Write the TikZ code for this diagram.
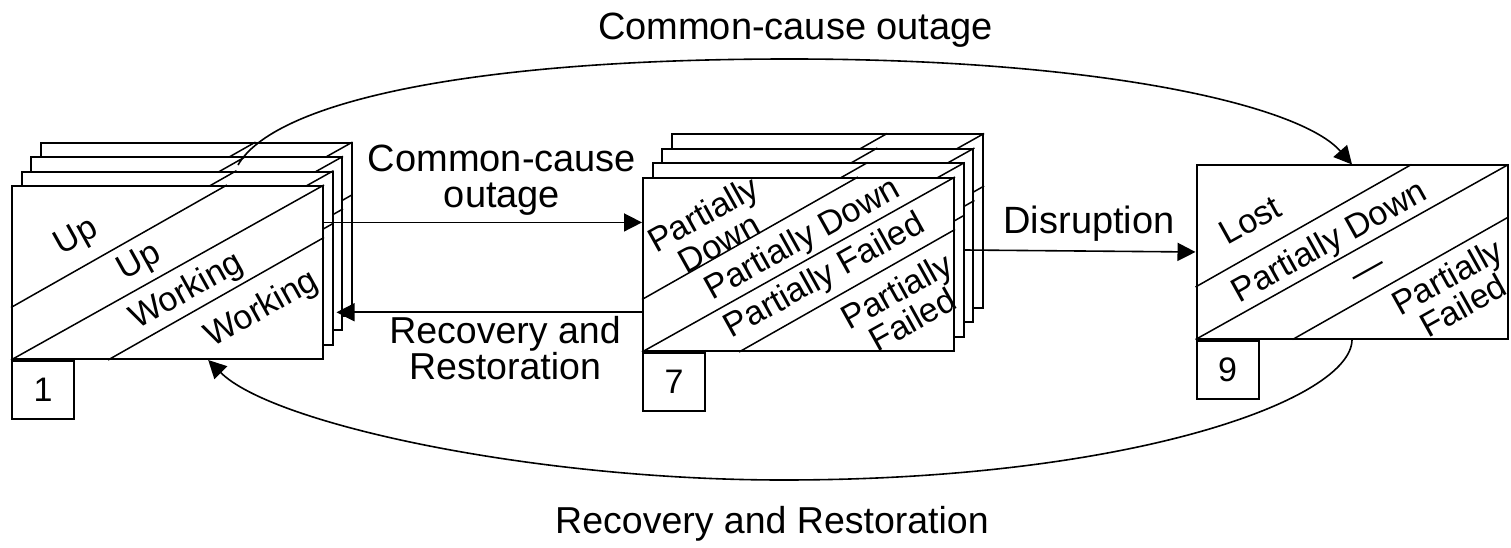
\documentclass[tikz,border=0pt]{standalone}
\usepackage{fontspec}
\setmainfont{Liberation Sans}
\usetikzlibrary{arrows.meta,calc}
\newcommand\fbig{\fontsize{38}{36.5}\selectfont}
\newcommand\frec{\fontsize{37.5}{33}\selectfont}
\newcommand\fmid{\fontsize{34}{33}\selectfont}
\newcommand\fnum{\fontsize{34}{34}\selectfont}
\newcommand\drawcard[2]{%
  \node[card] (#1) at (#2) {};
  \draw[diag] ($(#1.south west)!0.3!(#1.north west)$) -- ($(#1.north west)!0.69!(#1.north east)$);
  \draw[diag] (#1.south west) -- (#1.north east);
  \draw[diag] ($(#1.south west)!0.31!(#1.south east)$) -- ($(#1.south east)!0.7!(#1.north east)$);
}
\begin{document}
\begin{tikzpicture}[x=1pt,y=-1pt,
  card/.style={draw,fill=white,line width=2pt,minimum width=311pt,minimum height=173pt,inner sep=0pt},
  diag/.style={line width=1.5pt},
  numbox/.style={draw,line width=2pt,minimum width=62pt,minimum height=58pt,inner sep=0pt,font=\fnum,anchor=north west},
  conn/.style={line width=1.6pt,-{Triangle[length=18pt,width=18pt]}},
  lbl/.style={font=\fbig,inner sep=0pt},
  intext/.style={font=\fmid,rotate=29.1,align=center,inner sep=0pt}]
\useasboundingbox (0,0) rectangle (1511,548);
% card stack 1
\drawcard{c1d}{196,229.6}
\drawcard{c1c}{186.5,243.9}
\drawcard{c1b}{177,258.2}
\drawcard{c1a}{167.5,272.5}
\node[intext] (u1) at (77,238) {Up};
\node[intext] (u2) at (140,263) {Up};
\node[intext] (w1) at (187,292) {Working};
\node[intext] (w2) at (262,310) {Working};
\node[numbox] (n1) at (c1a.south west) {1};
% card stack 7
\drawcard{c7d}{827.6,221}
\drawcard{c7c}{817.9,235.5}
\drawcard{c7b}{808.2,250}
\drawcard{c7a}{798.5,264.5}
\node[intext] (p1) at (711,228) {Partially\\Down};
\node[intext] (p2) at (803,240) {Partially Down};
\node[intext] (p3) at (825,277) {Partially Failed};
\node[intext] (p4) at (904.5,305) {Partially\\Failed};
\node[numbox] (n7) at (c7a.south west) {7};
% card 9
\drawcard{c9}{1352,252}
\node[intext] (l1) at (1250,220) {Lost};
\node[intext] (l2) at (1330,243) {Partially Down};
\node[intext] (l3) at (1370,274) {—};
\node[intext] (l4) at (1455,291) {Partially\\Failed};
\node[numbox] (n9) at (c9.south west) {9};
% straight connectors
\coordinate (a1) at ($(c1a.north east)!0.214!(c1a.south east)$);
\draw[conn] (a1) -- (a1 -| c7a.west);
\node[lbl,align=center] (t1) at (502,180.4) {Common-cause\\outage};
\coordinate (a2) at ($(c7a.north west)!0.773!(c7a.south west)$);
\draw[conn] (a2) -- ($(a2 -| c1b.east)+(3,0)$);
\node[lbl,font=\frec,align=center] (t2) at (505,348) {Recovery and\\Restoration};
\draw[conn] (c7b.east) -- (c9.west);
\node[lbl,anchor=base] (t3) at (1089,233) {Disruption};
% curved connectors
\coordinate (tstart) at (238,165);
\draw[conn] (tstart) .. controls (273,104) and (460,59) .. (790,59)
  .. controls (1100,59) and (1300,105) .. (c9.north);
\node[lbl,anchor=base] (t4) at (795.5,40) {Common-cause outage};
\coordinate (bend) at ($(c1a.south west)!0.63!(c1a.south east)$);
\draw[conn] (c9.south) .. controls (1352,399) and (1133,480) .. (783,480)
  .. controls (533,480) and (272,424) .. (bend);
\node[lbl,font=\frec,anchor=base] (t5) at (772,533) {Recovery and Restoration};
\end{tikzpicture}
\end{document}
